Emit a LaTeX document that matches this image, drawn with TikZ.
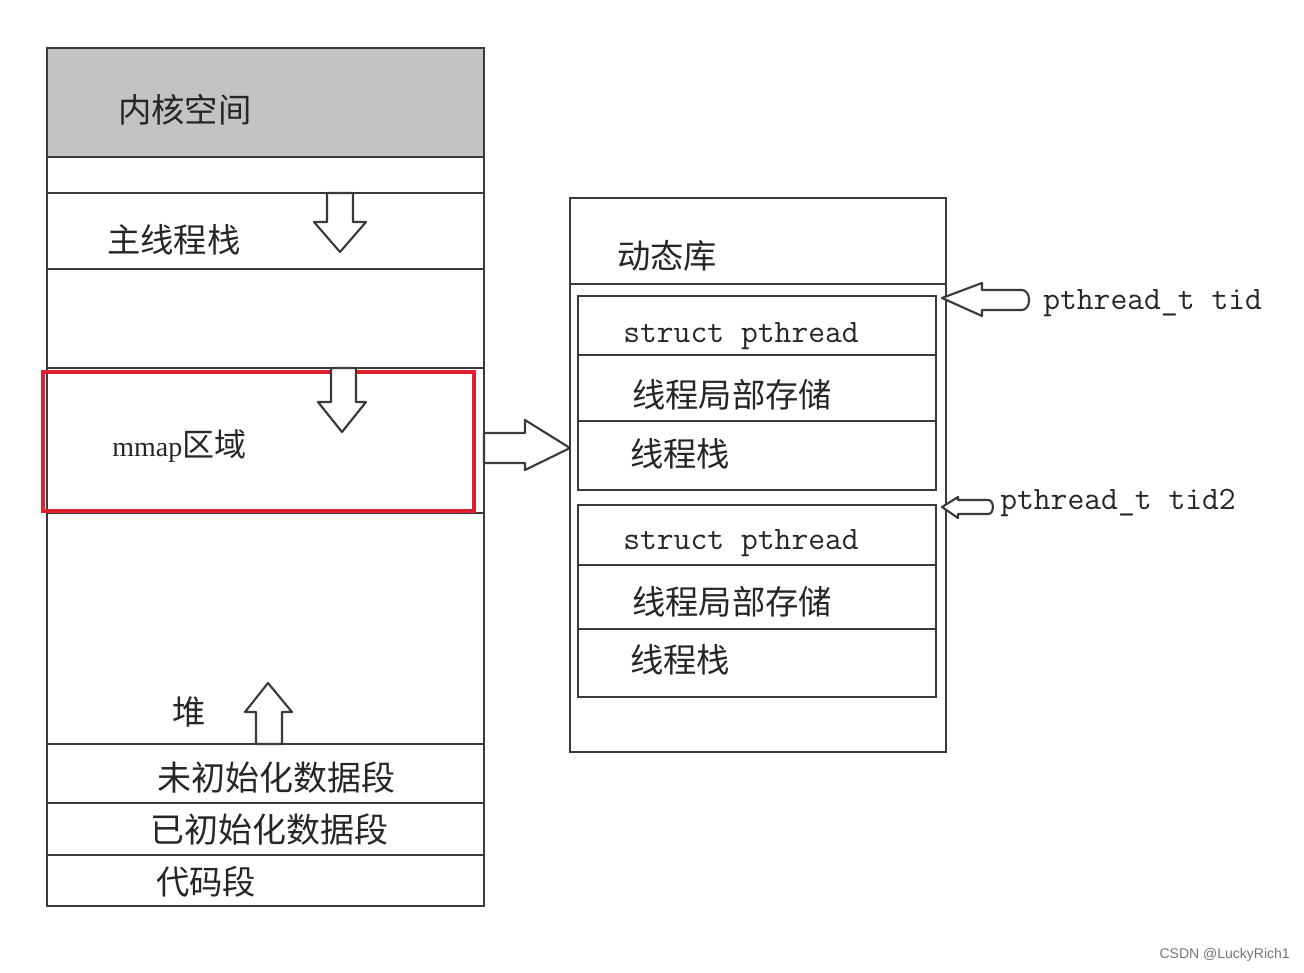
\documentclass[tikz,border=0pt]{standalone}
\usepackage{fontspec}
\setmainfont{Liberation Sans}
\newfontfamily\cjk{Noto Sans CJK SC}
\newfontfamily\serifl{Liberation Serif}
\definecolor{pen}{HTML}{3A3A3A}
\definecolor{kern}{HTML}{C3C3C3}
\definecolor{redbox}{HTML}{E0202E}
\tikzset{
  pencil/.style={draw=pen, line width=1.8pt},
  blockarrow/.style={draw=pen, fill=white, line width=1.6pt, line join=round},
  cjktext/.style={anchor=west, inner sep=0pt, font=\cjk\fontsize{25}{30}\selectfont, text=black!85},
  monotext/.style={anchor=west, inner sep=0pt, font=\ttfamily\fontsize{24.5}{28}\selectfont, text=black!85},
}
\begin{document}
\begin{tikzpicture}[x=0.75pt,y=-0.75pt]
\useasboundingbox (0,0) rectangle (1304,972);
% ---------------- left column ----------------
\fill[kern] (47,48) rectangle (484,157);
\draw[pencil] (47,48) rectangle (484,906);
\foreach \yy in {157,193,269,368,744,803,855}
  \draw[pencil] (47,\yy) -- (484,\yy);
\draw[pencil] (47,513) -- (484,513);
\draw[draw=redbox, line width=2.4pt] (43,372) rectangle (474,511);

\node[cjktext] (kernel) at (118,110) {内核空间};
\node[cjktext] (mainstack) at (107,240) {主线程栈};
\node[anchor=west, inner sep=0pt, text=black!85] (mmap) at (112,446)
  {\serifl\fontsize{21}{26}\selectfont mmap\cjk\fontsize{24}{30}\selectfont 区域};
\node[cjktext] (heap) at (172,712) {堆};
\node[cjktext, font=\cjk\fontsize{25.5}{30}\selectfont] (bss) at (157,778) {未初始化数据段};
\node[cjktext, font=\cjk\fontsize{25.5}{30}\selectfont] (data) at (150,830) {已初始化数据段};
\node[cjktext] (text) at (156,882) {代码段};

% block arrows
\draw[blockarrow] (327,193) -- (353,193) -- (353,222) -- (366,222) -- (340,252) -- (314,222) -- (327,222) -- cycle;
\draw[blockarrow] (331,368) -- (356,368) -- (356,402) -- (366,402) -- (342,432) -- (318,402) -- (331,402) -- cycle;
\draw[blockarrow] (256,744) -- (282,744) -- (282,712) -- (292,712) -- (268,683) -- (245,712) -- (256,712) -- cycle;
\draw[blockarrow] (484,433) -- (525,433) -- (525,420) -- (570,448) -- (525,470) -- (525,463) -- (484,463) -- cycle;

% ---------------- right column ----------------
\draw[pencil] (570,198) rectangle (946,752);
\draw[pencil] (570,284) -- (946,284);
\node[cjktext] (dynlib) at (617,256) {动态库};

\draw[pencil] (578,296) rectangle (936,490);
\draw[pencil] (578,355) -- (936,355);
\draw[pencil] (578,421) -- (936,421);
\node[monotext] (sp1) at (623,336) {struct pthread};
\node[cjktext] (tls1) at (632,395) {线程局部存储};
\node[cjktext] (ts1) at (630,454) {线程栈};

\draw[pencil] (578,505) rectangle (936,697);
\draw[pencil] (578,565) -- (936,565);
\draw[pencil] (578,629) -- (936,629);
\node[monotext] (sp2) at (623,543) {struct pthread};
\node[cjktext] (tls2) at (632,602) {线程局部存储};
\node[cjktext] (ts2) at (630,660) {线程栈};

% left-pointing arrows
\draw[blockarrow] (942,298) -- (982,283) -- (982,290) -- (1022,290) to[out=0,in=0,looseness=1.2] (1022,310) -- (982,310) -- (982,316) -- cycle;
\draw[blockarrow] (942,507) -- (958,497) -- (958,500) -- (988,500) to[out=0,in=0,looseness=1.2] (988,514) -- (958,514) -- (958,518) -- cycle;
\node[monotext] (tid) at (1043,303) {pthread\_t tid};
\node[monotext] (tid2) at (1000,503) {pthread\_t tid2};

% watermark
\node[anchor=east, inner sep=0pt, font=\fontsize{10.5}{12}\selectfont, text=black!55] (wm) at (1290,955) {CSDN @LuckyRich1};
\end{tikzpicture}
\end{document}
